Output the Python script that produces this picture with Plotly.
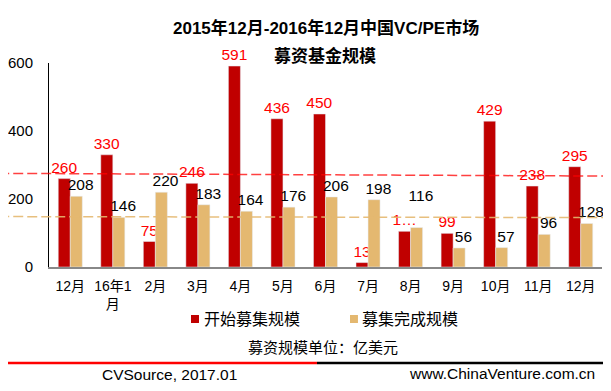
import plotly.graph_objects as go

categories = ["12月", "16年1<br>月", "2月", "3月", "4月", "5月", "6月", "7月", "8月", "9月", "10月", "11月", "12月"]
start_values = [260, 330, 75, 246, 591, 436, 450, 13, 105, 99, 429, 238, 295]
start_labels = ["260", "330", "75", "246", "591", "436", "450", "13", "1…", "99", "429", "238", "295"]
done_values = [208, 146, 220, 183, 164, 176, 206, 198, 116, 56, 57, 96, 128]
done_labels = ["208", "146", "220", "183", "164", "176", "206", "198", "116<br> ", "56", "57", "96", "128"]
y_ticks = [0, 200, 400, 600]
series_names = ["开始募集规模", "募集完成规模"]

FONT = "Liberation Sans, Arial, Noto Sans CJK SC, sans-serif"
RED = "#C00000"
TAN = "#E4B870"

x = list(range(len(categories)))

fig = go.Figure()
fig.add_trace(go.Bar(
    x=x, y=start_values, name=series_names[0], marker_color=RED,
    text=start_labels, textposition="outside", cliponaxis=False, constraintext="none",
    textfont=dict(color="#FF0000", size=15.5, family=FONT),
))
fig.add_trace(go.Bar(
    x=x, y=done_values, name=series_names[1], marker_color=TAN,
    text=["\u00a0\u00a0" + t for t in done_labels], textposition="outside",
    cliponaxis=False, constraintext="none",
    textfont=dict(color="#000000", size=15.5, family=FONT),
))

# average (dashed) lines
avg_start = sum(start_values) / len(start_values)
avg_done = sum(done_values) / len(done_values)
fig.add_shape(type="line", xref="paper", yref="y", x0=-0.09, x1=1.02,
              y0=avg_start + 1, y1=avg_start - 7,
              line=dict(color="rgba(255,0,0,0.75)", width=1.5, dash="10px,4px"))
fig.add_shape(type="line", xref="paper", yref="y", x0=-0.09, x1=1.02,
              y0=avg_done - 2, y1=avg_done - 5,
              line=dict(color="rgba(228,184,112,0.9)", width=1.5, dash="10px,4px"))

# manual legend
fig.add_shape(type="rect", xref="paper", yref="paper", x0=0.2568, x1=0.2712,
              y0=-0.2745, y1=-0.2353, fillcolor=RED, line_width=0)
fig.add_shape(type="rect", xref="paper", yref="paper", x0=0.5443, x1=0.5587,
              y0=-0.2745, y1=-0.2353, fillcolor=TAN, line_width=0)
fig.add_annotation(text=series_names[0], xref="paper", yref="paper",
                   x=0.2767, y=-0.255, xanchor="left", yanchor="middle", showarrow=False,
                   font=dict(size=16, family=FONT, color="#000"))
fig.add_annotation(text=series_names[1], xref="paper", yref="paper",
                   x=0.5624, y=-0.255, xanchor="left", yanchor="middle", showarrow=False,
                   font=dict(size=16, family=FONT, color="#000"))

# footer line
fig.add_shape(type="line", xref="paper", yref="paper", x0=-0.076, x1=0.4846,
              y0=-0.4706, y1=-0.4706, line=dict(color="#FF0000", width=2.5))
fig.add_shape(type="line", xref="paper", yref="paper", x0=0.4846, x1=1.02,
              y0=-0.4706, y1=-0.4706, line=dict(color="#000000", width=2.5))

fig.add_annotation(text="<b>2015年12月-2016年12月中国VC/PE市场</b>", xref="paper", yref="paper",
                   x=0.501, y=1.171, xanchor="center", yanchor="middle", showarrow=False,
                   font=dict(size=17, family=FONT, color="#000"))
fig.add_annotation(text="<b>募资基金规模</b>", xref="paper", yref="paper",
                   x=0.499, y=1.034, xanchor="center", yanchor="middle", showarrow=False,
                   font=dict(size=17, family=FONT, color="#000"))
fig.add_annotation(text="募资规模单位：亿美元", xref="paper", yref="paper",
                   x=0.4955, y=-0.397, xanchor="center", yanchor="middle", showarrow=False,
                   font=dict(size=15, family=FONT, color="#000"))
fig.add_annotation(text="CVSource, 2017.01", xref="paper", yref="paper",
                   x=0.0922, y=-0.529, xanchor="left", yanchor="middle", showarrow=False,
                   font=dict(size=15.5, family=FONT, color="#000"))
fig.add_annotation(text="www.ChinaVenture.com.cn", xref="paper", yref="paper",
                   x=0.991, y=-0.520, xanchor="right", yanchor="middle", showarrow=False,
                   font=dict(size=15.5, family=FONT, color="#000"))

fig.update_layout(
    width=603, height=383,
    margin=dict(l=41, r=9, t=55, b=124, autoexpand=False),
    paper_bgcolor="white", plot_bgcolor="white",
    barmode="group", bargap=0.435, bargroupgap=0,
    font=dict(family=FONT, size=14, color="#000"),
    showlegend=False,
)
fig.update_xaxes(tickvals=x, ticktext=categories, range=[-0.5, len(categories) - 0.5],
                 showline=True, linecolor="#888888", linewidth=1.5, ticks="",
                 tickfont=dict(size=14, family=FONT), showgrid=False, automargin=False,
                 ticklabelstandoff=5)
fig.update_yaxes(range=[0, 600], tickvals=y_ticks, showline=True, linecolor="#000000",
                 linewidth=1, ticks="", showgrid=False, zeroline=False, automargin=False,
                 tickfont=dict(size=15, family=FONT), ticklabelstandoff=12)

fig.write_html("out.html")
